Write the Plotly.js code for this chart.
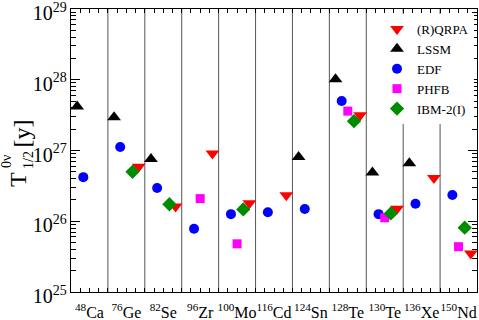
<!DOCTYPE html>
<html>
<head>
<meta charset="utf-8">
<script src="https://cdn.plot.ly/plotly-3.0.1.min.js"></script>
<style>html,body{margin:0;padding:0;background:#fff;}#chart{width:479px;height:320px;}</style>
</head>
<body>
<div id="chart"></div>
<script>
// Nuclei (categories)
const massNumbers = ['48','76','82','96','100','116','124','128','130','136','150'];
const elements    = ['Ca','Ge','Se','Zr','Mo','Cd','Sn','Te','Te','Xe','Nd'];

// Half-life values T_1/2^0v [y] per model (null = not available)
const qrpa = [null, 5.9e26, 1.62e26, 9.1e26, 1.79e26, 2.33e26, null, 3.15e27, 1.5e26, 4.07e26, 3.5e25];
const lssm = [4.2e27, 2.95e27, 7.6e26, null, null, null, 8.1e26, 1.02e28, 4.9e26, 6.6e26, null];
const edf  = [4.2e26, 1.12e27, 2.95e26, 7.85e25, 1.26e26, 1.34e26, 1.49e26, 5.0e27, 1.26e26, 1.77e26, 2.35e26];
const phfb = [null, null, null, 2.09e26, 4.8e25, null, null, 3.6e27, 1.12e26, null, 4.37e25];
const ibm  = [null, 5.0e26, 1.74e26, null, 1.47e26, null, null, 2.6e27, 1.29e26, null, 8.1e25];

const serif = '"Liberation Serif", serif';
const nCat = massNumbers.length;
const idx = massNumbers.map((_, i) => i);
const tickText = massNumbers.map((m, i) => '<sup>' + m + '</sup>' + elements[i]);

function mk(name, vals, offset, symbol, color, size) {
  return {
    type: 'scatter', mode: 'markers', name: name,
    x: idx.map(i => i + offset), y: vals,
    marker: {symbol: symbol, color: color, size: size, line: {width: 0}},
    cliponaxis: false
  };
}

const traces = [
  mk('(R)QRPA', qrpa, 5/6, 'triangle-down', '#ff0000', 12),
  mk('LSSM', lssm, 1/6, 'triangle-up', '#000000', 12),
  mk('EDF', edf, 2/6, 'circle', '#0000ff', 10),
  mk('PHFB', phfb, 3/6, 'square', '#ff00ff', 9),
  mk('IBM-2(I)', ibm, 4/6, 'diamond', '#008c00', 11)
];

const shapes = [];
for (let k = 1; k < nCat; k++) {
  shapes.push({type: 'line', xref: 'x', yref: 'paper', x0: k, x1: k, y0: 0, y1: 1,
               line: {color: '#555555', width: 1}, layer: 'below'});
}

const L = 71, R = 2, T = 9, B = 28, W = 479, H = 320;
const pw = W - L - R, ph = H - T - B;
function px(x) { return (x - L) / pw; }
function py(y) { return (H - B - y) / ph; }
function lab(text, x, y, size) {
  return {text: text, xref: 'paper', yref: 'paper', x: px(x), y: py(y), showarrow: false,
          textangle: -90, xanchor: 'center', yanchor: 'middle',
          font: {family: serif, size: size, color: '#000'}};
}

const layout = {
  width: W, height: H,
  margin: {l: L, r: R, t: T, b: B, pad: 0},
  paper_bgcolor: '#fff', plot_bgcolor: '#fff',
  showlegend: true,
  legend: {x: px(377), y: py(14), xanchor: 'left', yanchor: 'top',
           bgcolor: '#ffffff', borderwidth: 0,
           font: {family: serif, size: 13, color: '#000'}},
  xaxis: {
    range: [0, nCat], tickvals: idx.map(i => i + 0.5), ticktext: tickText, tickangle: 0,
    ticks: 'inside', ticklen: 4, tickcolor: '#000', tickwidth: 1, ticklabelstandoff: 6,
    showline: true, linecolor: '#000', linewidth: 1, mirror: 'allticks',
    showgrid: false, zeroline: false,
    minor: {dtick: 0.25, tick0: 0, ticks: 'inside', ticklen: 4, tickcolor: '#000', showgrid: false},
    tickfont: {family: serif, size: 16, color: '#000'}
  },
  yaxis: {
    type: 'log', range: [25, 29], dtick: 1, exponentformat: 'power',
    ticks: 'inside', ticklen: 9, tickcolor: '#000', tickwidth: 1,
    ticklabeloverflow: 'allow', ticklabelshift: 4,
    showline: true, linecolor: '#000', linewidth: 1, mirror: 'allticks',
    showgrid: false, zeroline: false,
    minor: {dtick: 'D1', ticks: 'inside', ticklen: 5, tickcolor: '#000', showgrid: false},
    tickfont: {family: serif, size: 16, color: '#000'}
  },
  shapes: shapes,
  annotations: [
    lab('T', 17.5, 179.5, 24),
    lab('0ν', 6.5, 161.5, 14),
    lab('1/2', 28, 160, 14),
    lab('[y]', 21.5, 134, 24)
  ]
};

Plotly.newPlot('chart', traces, layout, {displayModeBar: false, staticPlot: true});
</script>
</body>
</html>
